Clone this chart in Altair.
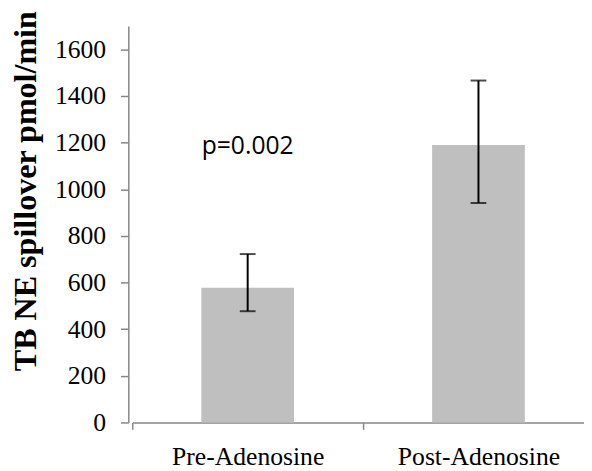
import altair as alt
import pandas as pd

categories = ["Pre-Adenosine", "Post-Adenosine"]
means = [578, 1190]
err_low = [477, 941]
err_high = [722, 1466]
y_ticks = [0, 200, 400, 600, 800, 1000, 1200, 1400, 1600]
y_max = 1700
p_text = ["p=0.002"]
p_cat = ["Pre-Adenosine"]
p_y = [1150]

df = pd.DataFrame({"cat": categories, "mean": means, "lo": err_low, "hi": err_high})
ann = pd.DataFrame({"cat": p_cat, "y": p_y, "label": p_text})

AXIS_GRAY = "#868686"
SERIF = "Liberation Serif"

x_axis = alt.Axis(title=None, labelAngle=0, labelFont=SERIF, labelFontSize=26,
                  labelColor="black", tickBand="extent", tickSize=7, tickColor=AXIS_GRAY,
                  tickWidth=1.5, domainColor=AXIS_GRAY, domainWidth=1.5, labelPadding=15, grid=False)
x_scale = alt.Scale(domain=categories, range=[4, 472], paddingInner=0, paddingOuter=0)

y_axis = alt.Axis(values=y_ticks, format="d", title="TB NE spillover pmol/min", titleFont=SERIF,
                  titleFontSize=32.5, titleFontWeight="bold", titleColor="black", titleX=-94, titleY=167,
                  titleAlign="center", titleBaseline="alphabetic", titleAngle=270,
                  labelFont=SERIF, labelFontSize=26, labelColor="black",
                  grid=False, tickSize=8, tickColor=AXIS_GRAY, tickWidth=1.5, domainColor=AXIS_GRAY,
                  domainWidth=1.5, labelPadding=15)
y_scale = alt.Scale(domain=[0, y_max], nice=False, zero=True)

X = alt.X("cat:N", sort=categories, scale=x_scale, axis=x_axis)

bars = alt.Chart(df).mark_bar(color="#bfbfbf", width=94).encode(
    x=X, y=alt.Y("mean:Q", scale=y_scale, axis=y_axis)
)
rules = alt.Chart(df).mark_rule(color="black", strokeWidth=2).encode(
    x=X, y=alt.Y("lo:Q", scale=y_scale), y2="hi:Q"
)
cap_lo = alt.Chart(df).mark_tick(color="black", thickness=2, size=16, orient="horizontal").encode(
    x=X, y=alt.Y("lo:Q", scale=y_scale)
)
cap_hi = alt.Chart(df).mark_tick(color="black", thickness=2, size=16, orient="horizontal").encode(
    x=X, y=alt.Y("hi:Q", scale=y_scale)
)
text = alt.Chart(ann).mark_text(font="Open Sans", fontSize=25, align="center",
                                baseline="alphabetic", color="black").encode(
    x=X, y=alt.Y("y:Q", scale=y_scale), text="label:N"
)

chart = alt.layer(bars, rules, cap_lo, cap_hi, text).properties(
    width=454, height=402,
    autosize=alt.AutoSizeParams(type="none"),
    padding={"left": 122, "top": 15, "right": 8, "bottom": 46},
).configure_view(stroke=None)

chart.save("out.html", embed_options={"renderer": "svg", "actions": False})
